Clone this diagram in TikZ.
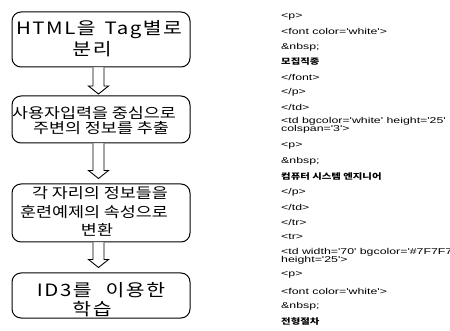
\documentclass[tikz,border=0pt]{standalone}
\usepackage{fontspec}
\usetikzlibrary{calc}
\newfontfamily\krfont[FakeStretch=1.2]{Noto Sans CJK KR}
\newfontfamily\codefont[FakeStretch=1.45]{Liberation Sans}
\newfontfamily\codekr[FakeStretch=1.3]{Noto Sans CJK KR}
\tikzset{
  flowbox/.style={draw, line width=1pt, rounded corners=9pt, minimum width=178pt, inner sep=0pt},
  bigtext/.style={align=center, inner sep=0pt, font=\krfont\fontsize{17}{19}\selectfont\addfontfeature{LetterSpace=9}},
  midtext/.style={align=center, inner sep=0pt, font=\krfont\fontsize{14.5}{16}\selectfont},
  harrow/.style={draw, line width=0.9pt, fill=white, line join=miter},
  codeline/.style={anchor=west, inner sep=0pt, font=\codefont\fontsize{8.5}{8.5}\selectfont},
  codekrline/.style={anchor=west, inner sep=0pt, font=\codekr\bfseries\fontsize{8}{8}\selectfont}
}
\newcommand\hollowarrow[2]{%
  \draw[harrow] ($(#1)+(-5.5,0)$) -- ($(#2)+(-5.5,-8)$) -- ($(#2)+(-10,-8)$) -- (#2)
    -- ($(#2)+(10,-8)$) -- ($(#2)+(5.5,-8)$) -- ($(#1)+(5.5,0)$);}
\begin{document}
\begin{tikzpicture}[x=1pt,y=-1pt]
\useasboundingbox (0,0) rectangle (450,331);
% flow boxes
\node[flowbox, minimum height=55pt] (b1) at (101,39.5) {};
\node[flowbox, minimum height=47pt] (b2) at (101,119.5) {};
\node[flowbox, minimum height=58pt] (b3) at (101,213) {};
\node[flowbox, minimum height=45pt] (b4) at (101,295.5) {};
% box texts
\node[bigtext] (t1a) at (99,30) {HTML을\hspace{9pt}Tag별로};
\node[bigtext] (t1b) at (92,49) {분리};
\node[midtext] (t2a) at (94,113) {사용자입력을 중심으로};
\node[midtext] (t2b) at (101,128.5) {주변의 정보를 추출};
\node[midtext] (t3a) at (100,193.5) {각 자리의 정보들을};
\node[midtext] (t3b) at (94,212) {훈련예제의 속성으로};
\node[midtext] (t3c) at (97,230) {변환};
\node[bigtext] (t4a) at (101,290) {ID3를\hspace{14pt}이용한};
\node[bigtext] (t4b) at (92,309) {학습};
% arrows
\coordinate (a1s) at ($(b1.south)+(-2.5,0)$);
\coordinate (a1e) at ($(b2.north)+(-2.5,-1.5)$);
\coordinate (a2s) at ($(b2.south)+(-2.5,0)$);
\coordinate (a2e) at ($(b3.north)+(-2.5,-5)$);
\coordinate (a3s) at ($(b3.south)+(-2.5,0)$);
\coordinate (a3e) at ($(b4.north)+(-2.5,-5)$);
\hollowarrow{a1s}{a1e}
\hollowarrow{a2s}{a2e}
\hollowarrow{a3s}{a3e}
% code listing
\node[codeline] (c1) at (281,17) {<p>};
\node[codeline] (c2) at (281,31) {<font color='white'>};
\node[codeline] (c3) at (281,47) {\&nbsp;};
\node[codekrline] (c4) at (281,62) {모집직종};
\node[codeline] (c5) at (281,77) {</font>};
\node[codeline] (c6) at (281,92) {</p>};
\node[codeline] (c7) at (281,107) {</td>};
\node[codeline] (c8) at (281,121) {<td bgcolor='white' height='25'};
\node[codeline] (c9) at (281,129) {colspan='3'>};
\node[codeline] (c10) at (281,146) {<p>};
\node[codeline] (c11) at (281,161) {\&nbsp;};
\node[codekrline] (c12) at (281,177) {컴퓨터 시스템 엔지니어};
\node[codeline] (c13) at (281,192) {</p>};
\node[codeline] (c14) at (281,207) {</td>};
\node[codeline] (c15) at (281,222) {</tr>};
\node[codeline] (c16) at (281,237) {<tr>};
\node[codeline] (c17) at (281,252) {<td width='70' bgcolor='\#7F7F7F'};
\node[codeline] (c18) at (281,260) {height='25'>};
\node[codeline] (c19) at (281,275) {<p>};
\node[codeline] (c20) at (281,291) {<font color='white'>};
\node[codeline] (c21) at (281,306) {\&nbsp;};
\node[codekrline] (c22) at (281,321) {전형절차};
\end{tikzpicture}
\end{document}
